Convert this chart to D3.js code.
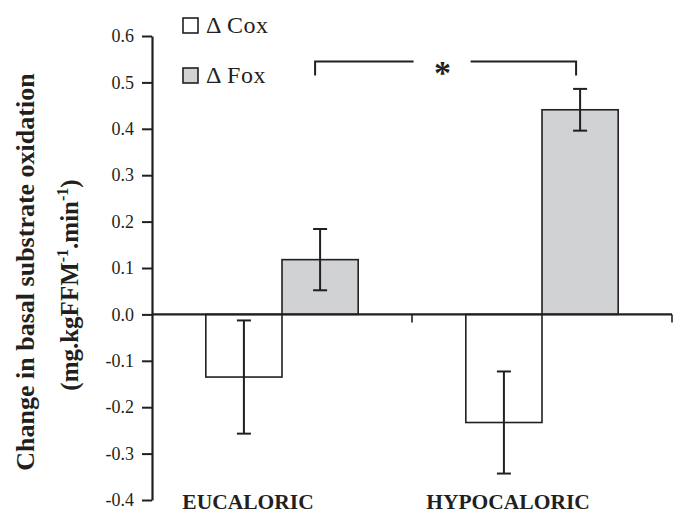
<!DOCTYPE html>
<html>
<head>
<meta charset="utf-8">
<script src="https://d3js.org/d3.v7.min.js"></script>
<style>
  body { margin: 0; background: #fff; }
  svg { display: block; font-family: "Liberation Serif", "Times New Roman", serif; }
</style>
</head>
<body>
<svg id="chart" width="673" height="514"></svg>
<script>
var width = 673,
    height = 514;

// data
var groups = ['EUCALORIC', 'HYPOCALORIC'];
var series = ['Cox', 'Fox'];
var seriesLabels = ['\u0394 Cox', '\u0394 Fox'];
var coxValues = [-0.135, -0.233];
var coxErrors = [0.122, 0.110];
var foxValues = [0.118, 0.441];
var foxErrors = [0.066, 0.045];
var yTicks = [-0.4, -0.3, -0.2, -0.1, 0.0, 0.1, 0.2, 0.3, 0.4, 0.5, 0.6];
var bracketY = [0.515, 0.545];

var colors = { Cox: '#ffffff', Fox: '#d1d2d4' };
var ink = '#231f20';

var margin = { top: 36, right: 1, bottom: 14, left: 152 };

var svg = d3.select('#chart');

var y = d3.scaleLinear()
    .domain([-0.4, 0.6])
    .range([height - margin.bottom, margin.top]);

var x0 = d3.scaleBand()
    .domain(groups)
    .range([margin.left, width - margin.right])
    .paddingInner(0)
    .paddingOuter(0);

var x1 = d3.scaleBand()
    .domain(series)
    .range([x0.bandwidth() * 0.207, x0.bandwidth() * 0.793]);

var rows = [];
groups.forEach(function (g, i) {
    rows.push({ group: g, key: 'Cox', value: coxValues[i], err: coxErrors[i] });
    rows.push({ group: g, key: 'Fox', value: foxValues[i], err: foxErrors[i] });
});

// bars
svg.append('g')
    .selectAll('rect')
    .data(rows)
    .enter()
    .append('rect')
    .attr('x', d => x0(d.group) + x1(d.key))
    .attr('y', d => y(Math.max(0, d.value)))
    .attr('width', x1.bandwidth())
    .attr('height', d => Math.abs(y(d.value) - y(0)))
    .attr('fill', d => colors[d.key])
    .attr('stroke', ink)
    .attr('stroke-width', 1.6);

// error bars
var eb = svg.append('g')
    .attr('stroke', ink)
    .attr('stroke-width', 2);

rows.forEach(function (d) {
    var cx = x0(d.group) + x1(d.key) + x1.bandwidth() / 2;
    eb.append('line')
        .attr('x1', cx).attr('x2', cx)
        .attr('y1', y(d.value + d.err)).attr('y2', y(d.value - d.err));
    [d.value + d.err, d.value - d.err].forEach(function (v) {
        eb.append('line')
            .attr('x1', cx - 7).attr('x2', cx + 7)
            .attr('y1', y(v)).attr('y2', y(v));
    });
});

// y axis
var yAxis = d3.axisLeft(y)
    .tickValues(yTicks)
    .tickFormat(d => d.toFixed(1))
    .tickSize(10)
    .tickSizeOuter(0)
    .tickPadding(8);

var gy = svg.append('g')
    .attr('transform', 'translate(' + margin.left + ',0)')
    .call(yAxis);
gy.select('.domain').attr('stroke', ink).attr('stroke-width', 2.2);
gy.selectAll('.tick line').attr('stroke', ink).attr('stroke-width', 2);
gy.selectAll('.tick text')
    .attr('fill', ink)
    .style('font-size', '18px')
    .style('font-family', '"Liberation Serif", "Times New Roman", serif');

// x axis at zero
var gx = svg.append('g').attr('stroke', ink).attr('stroke-width', 2.2);
gx.append('line')
    .attr('x1', x0.range()[0]).attr('x2', x0.range()[1])
    .attr('y1', y(0)).attr('y2', y(0));
gx.selectAll('.sep')
    .data(groups)
    .enter()
    .append('line')
    .attr('class', 'sep')
    .attr('stroke-width', 1.6)
    .attr('x1', d => x0(d) + x0.bandwidth())
    .attr('x2', d => x0(d) + x0.bandwidth())
    .attr('y1', y(0))
    .attr('y2', y(0) + 8);

// group labels
svg.append('g')
    .selectAll('text')
    .data(groups)
    .enter()
    .append('text')
    .attr('x', d => x0(d) + x0.bandwidth() / 2 - 34)
    .attr('y', height - 5)
    .attr('text-anchor', 'middle')
    .attr('fill', ink)
    .style('font-weight', 'bold')
    .style('font-size', '21.5px')
    .text(d => d);

// y label
var yl = svg.append('g').attr('fill', ink).style('font-weight', 'bold');
yl.append('text')
    .attr('transform', 'translate(34,272) rotate(-90)')
    .attr('text-anchor', 'middle')
    .style('font-size', '26px')
    .text('Change in basal substrate oxidation');

var l2 = yl.append('text')
    .attr('transform', 'translate(78,285) rotate(-90)')
    .attr('text-anchor', 'middle')
    .style('font-size', '25px');
l2.append('tspan').text('(mg.kgFFM');
l2.append('tspan').attr('dy', -10).style('font-size', '16px').text('-1');
l2.append('tspan').attr('dy', 10).text('.min');
l2.append('tspan').attr('dy', -10).style('font-size', '16px').text('-1');
l2.append('tspan').attr('dy', 10).text(')');

// legend
var legend = svg.append('g')
    .selectAll('g')
    .data(series)
    .enter()
    .append('g')
    .attr('transform', (d, i) => 'translate(183,' + (18 + i * 50) + ')');
legend.append('rect')
    .attr('width', 15).attr('height', 15)
    .attr('fill', d => colors[d])
    .attr('stroke', ink)
    .attr('stroke-width', 1.6);
legend.append('text')
    .attr('x', 23)
    .attr('y', 15)
    .attr('fill', ink)
    .style('font-size', '24px')
    .style('letter-spacing', '0.5px')
    .text((d, i) => seriesLabels[i]);

// significance bracket
var bx1 = x0(groups[0]) + x1('Fox') + x1.bandwidth() / 2 - 5;
var bx2 = x0(groups[1]) + x1('Fox') + x1.bandwidth() / 2 - 4;
var mid = (bx1 + bx2) / 2;
var br = svg.append('g')
    .attr('fill', 'none')
    .attr('stroke', ink)
    .attr('stroke-width', 2);
br.append('path')
    .attr('d', 'M' + bx1 + ',' + y(bracketY[0]) + 'V' + y(bracketY[1]) + 'H' + (mid - 32));
br.append('path')
    .attr('d', 'M' + (mid + 25) + ',' + y(bracketY[1]) + 'H' + bx2 + 'V' + y(bracketY[0]));
svg.append('text')
    .attr('x', mid - 3)
    .attr('y', y(bracketY[1]) + 22)
    .attr('text-anchor', 'middle')
    .attr('fill', ink)
    .style('font-weight', 'bold')
    .style('font-size', '34px')
    .text('*');
</script>
</body>
</html>
